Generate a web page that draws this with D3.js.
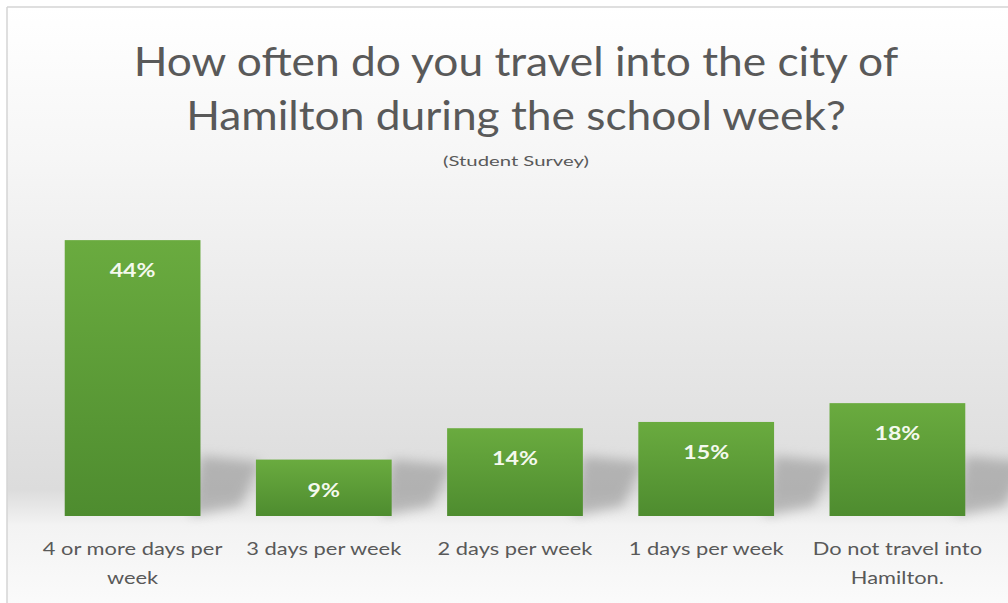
<!DOCTYPE html>
<html>
<head>
<meta charset="utf-8">
<script src="https://cdn.jsdelivr.net/npm/d3@7"></script>
<style>
  body { margin: 0; background: #fff; }
  svg { display: block; }
</style>
</head>
<body>
<svg id="viz" width="1008" height="603"></svg>
<script>
// survey answers and shares (percent)
var categories = ["4 or more days per week", "3 days per week", "2 days per week", "1 days per week", "Do not travel into Hamilton."]
  , labelLines = [["4 or more days per", "week"], ["3 days per week"], ["2 days per week"], ["1 days per week"], ["Do not travel into", "Hamilton."]]
  , values = [44, 9, 14, 15, 18]
  , titleLines = ["How often do you travel into the city of", "Hamilton during the school week?"]
  , subtitle = "(Student Survey)";

var width = 1008
  , height = 603
  , baseY = 516
  , font = "Lato, 'Open Sans', sans-serif";

var svg = d3.select("#viz");
var defs = svg.append("defs");

// background gradient: white top, grey towards the bars
var bg = defs.append("linearGradient").attr("id", "bg").attr("x1", 0).attr("y1", 0).attr("x2", 0).attr("y2", 1);
bg.append("stop").attr("offset", "0%").attr("stop-color", "#ffffff");
bg.append("stop").attr("offset", "25%").attr("stop-color", "#f6f6f6");
bg.append("stop").attr("offset", "80%").attr("stop-color", "#dcdcdc");
bg.append("stop").attr("offset", "86%").attr("stop-color", "#f3f3f3");
bg.append("stop").attr("offset", "100%").attr("stop-color", "#fbfbfb");

var barGrad = defs.append("linearGradient").attr("id", "bar").attr("x1", 0).attr("y1", 0).attr("x2", 0).attr("y2", 1);
barGrad.append("stop").attr("offset", "0%").attr("stop-color", "#6aab3f");
barGrad.append("stop").attr("offset", "100%").attr("stop-color", "#4e8c2f");

defs.append("filter").attr("id", "blur").attr("x", "-50%").attr("y", "-50%").attr("width", "200%").attr("height", "200%")
  .append("feGaussianBlur").attr("stdDeviation", 6);

svg.append("rect").attr("x", 7).attr("y", 7).attr("width", width).attr("height", height)
  .attr("fill", "url(#bg)");
// frame edges
svg.append("line").attr("x1", 7).attr("x2", width).attr("y1", 7).attr("y2", 7).attr("stroke", "#d4d4d4").attr("stroke-width", 1.5);
svg.append("line").attr("x1", 7).attr("x2", 7).attr("y1", 7).attr("y2", height).attr("stroke", "#d4d4d4").attr("stroke-width", 1.5);

// text in the picture is wider than Lato, so stretch it a bit
function stretched(g, cx, sx) {
  return g.append("g").attr("transform", "translate(" + cx + ",0) scale(" + sx + ",1)");
}

// title
stretched(svg, 516, 1.08).append("text")
  .attr("text-anchor", "middle")
  .attr("font-family", font)
  .attr("font-size", 41)
  .attr("fill", "#595959")
  .selectAll("tspan")
  .data(titleLines)
  .enter().append("tspan")
    .attr("x", 0)
    .attr("y", (d, i) => 76 + i * 54)
    .text(d => d);

stretched(svg, 516, 1.45).append("text")
  .attr("x", 0).attr("y", 166)
  .attr("text-anchor", "middle")
  .attr("font-family", font)
  .attr("font-size", 14)
  .attr("fill", "#595959")
  .text(subtitle);

var x = d3.scaleBand().domain(categories).range([37, 993]).paddingInner(0.29).paddingOuter(0.145);
var y = d3.scaleLinear().domain([0, 50]).range([baseY, baseY - 50 * 6.27]);

// shadows behind bars
svg.append("g").selectAll("path")
  .data(values)
  .enter().append("path")
    .attr("d", function(d, i) {
      var x0 = x(categories[i]) + x.bandwidth(), yb = baseY, yt = y(d);
      var h = Math.min(yb - yt, 60);
      return "M" + (x0 - 10) + "," + yb + "L" + (x0 + 40) + "," + (yb - 10) +
             "L" + (x0 + 60) + "," + (yb - h * 0.9) + "L" + (x0) + "," + (yb - h) + "Z";
    })
    .attr("fill", "#8f8f8f")
    .attr("opacity", 0.55)
    .attr("filter", "url(#blur)");

var bars = svg.append("g").selectAll("g")
  .data(values)
  .enter().append("g");

bars.append("rect")
  .attr("x", (d, i) => x(categories[i]))
  .attr("y", d => y(d))
  .attr("width", x.bandwidth())
  .attr("height", d => baseY - y(d))
  .attr("fill", "url(#bar)");

bars.each(function(d, i) {
  stretched(d3.select(this), x(categories[i]) + x.bandwidth() / 2, 1.22).append("text")
    .attr("x", 0)
    .attr("y", y(d) + 37)
    .attr("text-anchor", "middle")
    .attr("font-family", font)
    .attr("font-weight", "bold")
    .attr("font-size", 19)
    .attr("fill", "#f4f9ee")
    .text(d + "%");
});

// category labels
svg.append("g").selectAll("g")
  .data(labelLines)
  .enter().append("g")
    .each(function(lines, i) {
      stretched(d3.select(this), x(categories[i]) + x.bandwidth() / 2, 1.25).append("text")
        .attr("text-anchor", "middle")
        .attr("font-family", font)
        .attr("font-size", 17.5)
        .attr("fill", "#595959")
        .selectAll("tspan")
        .data(lines)
        .enter().append("tspan")
          .attr("x", 0)
          .attr("y", (d, j) => 555 + j * 29)
          .text(d => d);
    });
</script>
</body>
</html>
